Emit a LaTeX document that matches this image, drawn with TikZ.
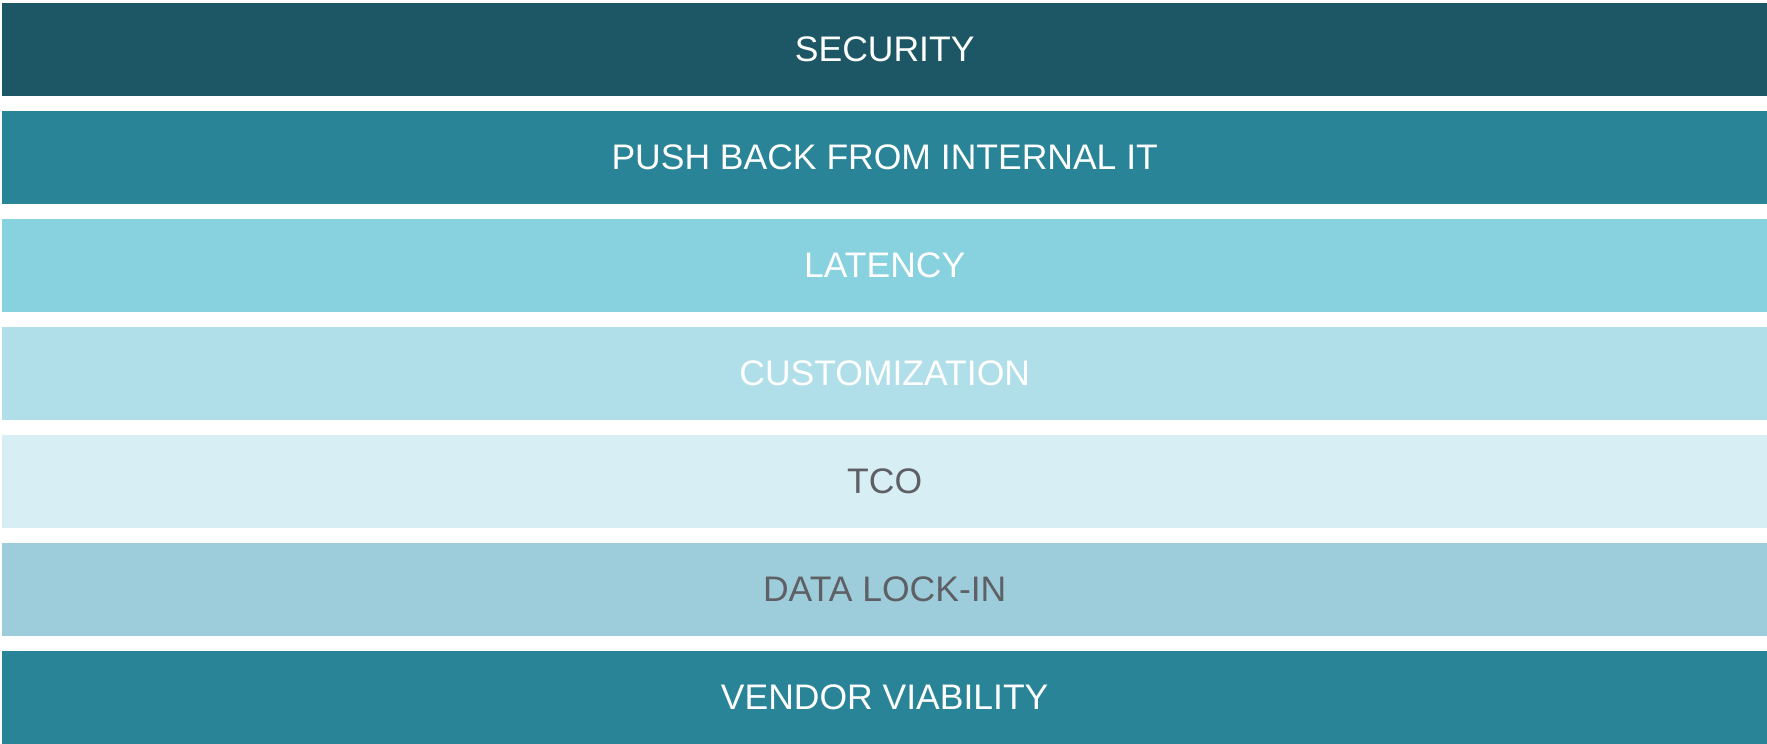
\documentclass[tikz,border=0pt]{standalone}
\usepackage{fontspec}
\setmainfont{Liberation Sans}
\definecolor{tealdark}{HTML}{1D5766}
\definecolor{tealmid}{HTML}{2A8497}
\definecolor{aqua}{HTML}{88D1DF}
\definecolor{aqualight}{HTML}{B0DFEA}
\definecolor{aquapale}{HTML}{D7EEF4}
\definecolor{greyblue}{HTML}{9DCCDA}
\definecolor{labelgrey}{HTML}{5F5F66}
\tikzset{
  band/.style={draw=none, minimum width=1765pt, minimum height=93pt,
    inner sep=0pt, anchor=north west, font=\fontsize{35.5}{40}\selectfont},
  lighttext/.style={text=white},
  darktext/.style={text=labelgrey}
}
\begin{document}
\begin{tikzpicture}[x=1pt,y=-1pt]
\useasboundingbox (0,0) rectangle (1767,744);
\node[band, lighttext, fill=tealdark]  (security) at (2,3)   {SECURITY};
\node[band, lighttext, fill=tealmid]   (pushback) at (2,111) {PUSH BACK FROM INTERNAL IT};
\node[band, lighttext, fill=aqua]      (latency)  at (2,219) {LATENCY};
\node[band, lighttext, fill=aqualight] (custom)   at (2,327) {CUSTOMIZATION};
\node[band, darktext,  fill=aquapale]  (tco)      at (2,435) {TCO};
\node[band, darktext,  fill=greyblue]  (lockin)   at (2,543) {DATA LOCK-IN};
\node[band, lighttext, fill=tealmid]   (vendor)   at (2,651) {VENDOR VIABILITY};
\end{tikzpicture}
\end{document}
